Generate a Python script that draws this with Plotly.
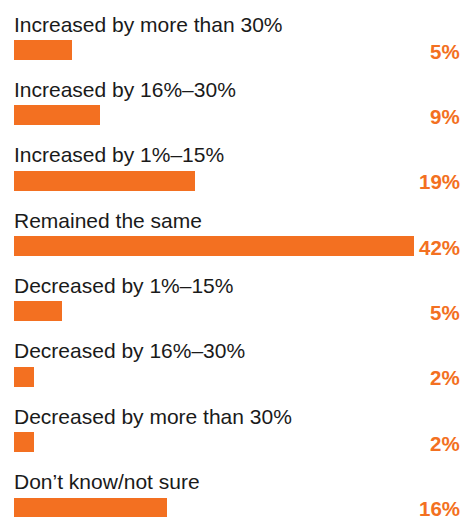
import plotly.graph_objects as go

categories = [
    "Increased by more than 30%",
    "Increased by 16%–30%",
    "Increased by 1%–15%",
    "Remained the same",
    "Decreased by 1%–15%",
    "Decreased by 16%–30%",
    "Decreased by more than 30%",
    "Don’t know/not sure",
]
bar_lengths = [6.1, 9, 19, 42, 5, 2.1, 2.1, 16.1]
value_labels = ["5%", "9%", "19%", "42%", "5%", "2%", "2%", "16%"]

ORANGE = "#F37021"
FONT = "Liberation Sans, Arial, sans-serif"

ypos = list(range(len(categories)))

fig = go.Figure(
    go.Bar(
        x=bar_lengths,
        y=ypos,
        orientation="h",
        marker=dict(color=ORANGE, line=dict(width=0)),
        width=0.306,
        hoverinfo="skip",
    )
)

annotations = []
for i, (cat, lab) in enumerate(zip(categories, value_labels)):
    annotations.append(dict(
        x=0, y=i, xref="x", yref="y", text=cat, showarrow=False,
        xanchor="left", yanchor="middle", yshift=26, xshift=-2,
        font=dict(family=FONT, size=21, color="#1a1a1a"),
    ))
    annotations.append(dict(
        x=(452 - 6) / 400, y=i, xref="paper", yref="y", text=lab, showarrow=False,
        xanchor="right", yanchor="middle", yshift=-1, xshift=2,
        font=dict(family=FONT, size=20.5, color=ORANGE, weight="bold"),
    ))

fig.update_layout(
    width=466, height=509,
    margin=dict(l=6, r=60, t=12, b=0, pad=0),
    paper_bgcolor="white", plot_bgcolor="white",
    showlegend=False,
    xaxis=dict(range=[0, 42], visible=False, fixedrange=True),
    yaxis=dict(range=[7.145, -0.459], visible=False, fixedrange=True),
    annotations=annotations,
    bargap=0,
)

fig.write_html("out.html", config={"displayModeBar": False})
